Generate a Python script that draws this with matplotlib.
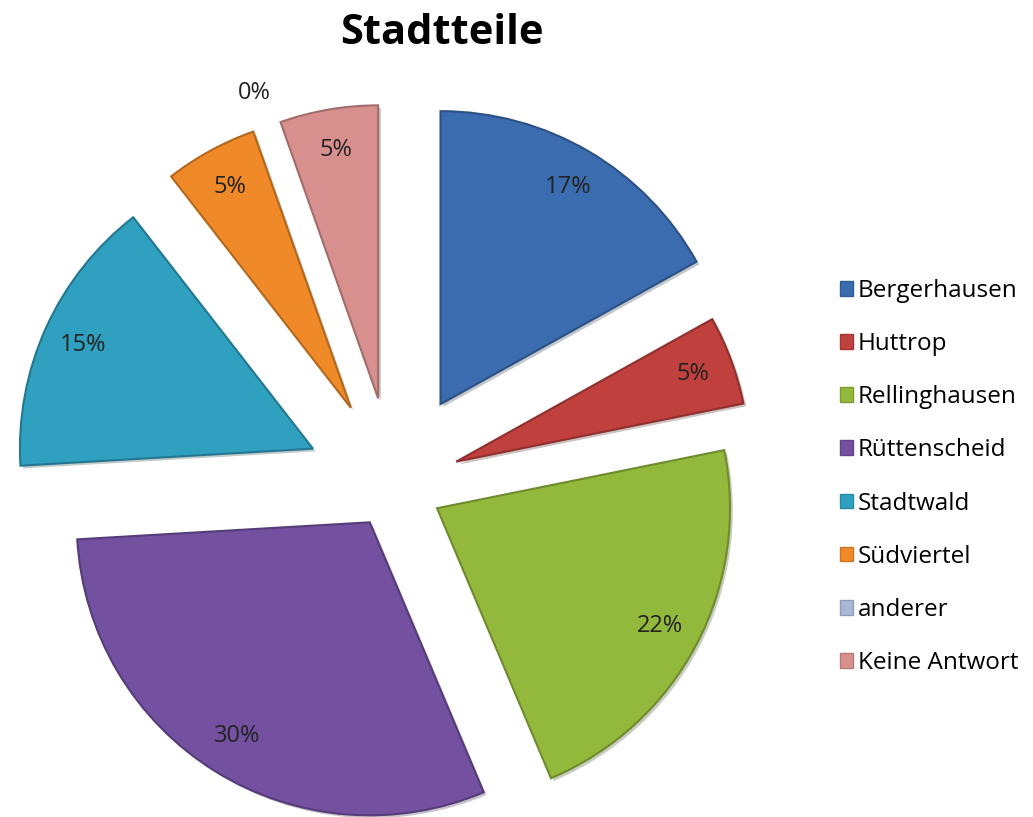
# coding:utf8
import numpy as np
import matplotlib.pyplot as plt
from matplotlib import rcParams
import matplotlib.colors as mcolors
import matplotlib.patheffects as pe

rcParams['font.family'] = ['Open Sans', 'DejaVu Sans']

# Data
stadtteile = ["Bergerhausen", "Huttrop", "Rellinghausen", "Rüttenscheid",
              "Stadtwald", "Südviertel", "anderer", "Keine Antwort"]
anteile = [16.9, 4.9, 21.8, 30.4, 15.4, 5.1, 0, 5.4]
farben = ["#3b6cb0", "#c0403d", "#93b93c", "#7350a0",
          "#2fa0c0", "#f08a28", "#a8b8d4", "#d8908e"]
# slices are pulled out by different amounts in the original
explode = [0.32, 0.23, 0.17, 0.15, 0.30, 0.30, 0.30, 0.30]

fig = plt.figure(figsize=(10.33, 8.17), dpi=100)
ax = fig.add_axes([0, 0, 1, 1])

# pie centre and radius in pixels
cx, cy, r = 393, 485, 293

def darker(c, f=0.75):
    rgb = np.array(mcolors.to_rgb(c))
    return tuple(rgb * f)

wedges, texts, autotexts = ax.pie(
    anteile, colors=farben, startangle=90, counterclock=False,
    explode=explode, autopct='%.0f%%', pctdistance=0.86,
    textprops=dict(fontsize=17, color="#222222"),
    wedgeprops=dict(linewidth=1.5))

for w, c, v in zip(wedges, farben, anteile):
    if v == 0:
        w.set_edgecolor("none")
    else:
        w.set_edgecolor(darker(c))
        w.set_path_effects([pe.SimplePatchShadow(offset=(2, -2), alpha=0.25),
                            pe.Normal()])

# label of the empty slice sits outside
for t, w, v, e in zip(autotexts, wedges, anteile, explode):
    if v == 0:
        a = np.deg2rad(w.theta1)
        t.set_position(((e + 1.12) * np.cos(a), (e + 1.12) * np.sin(a)))

ax.set_xlim(-cx / r, (1033 - cx) / r)
ax.set_ylim(-(817 - cy) / r, cy / r)
ax.set_aspect('auto')

fig.text(442 / 1033, 1 - 34 / 817, "Stadtteile", ha='center', va='center',
         fontsize=30, fontweight='bold')

leg = ax.legend(wedges, stadtteile, loc='center left',
                bbox_to_anchor=(818 / 1033, 1 - 477 / 817),
                bbox_transform=fig.transFigure, frameon=False,
                fontsize=17.5, handlelength=0.55, handleheight=0.55,
                handletextpad=0.2, labelspacing=1.2)
for h, c in zip(leg.legend_handles, farben):
    h.set_edgecolor(darker(c, 0.85))
    h.set_linewidth(1)
    h.set_path_effects([])

plt.savefig("out.png", dpi=100)
